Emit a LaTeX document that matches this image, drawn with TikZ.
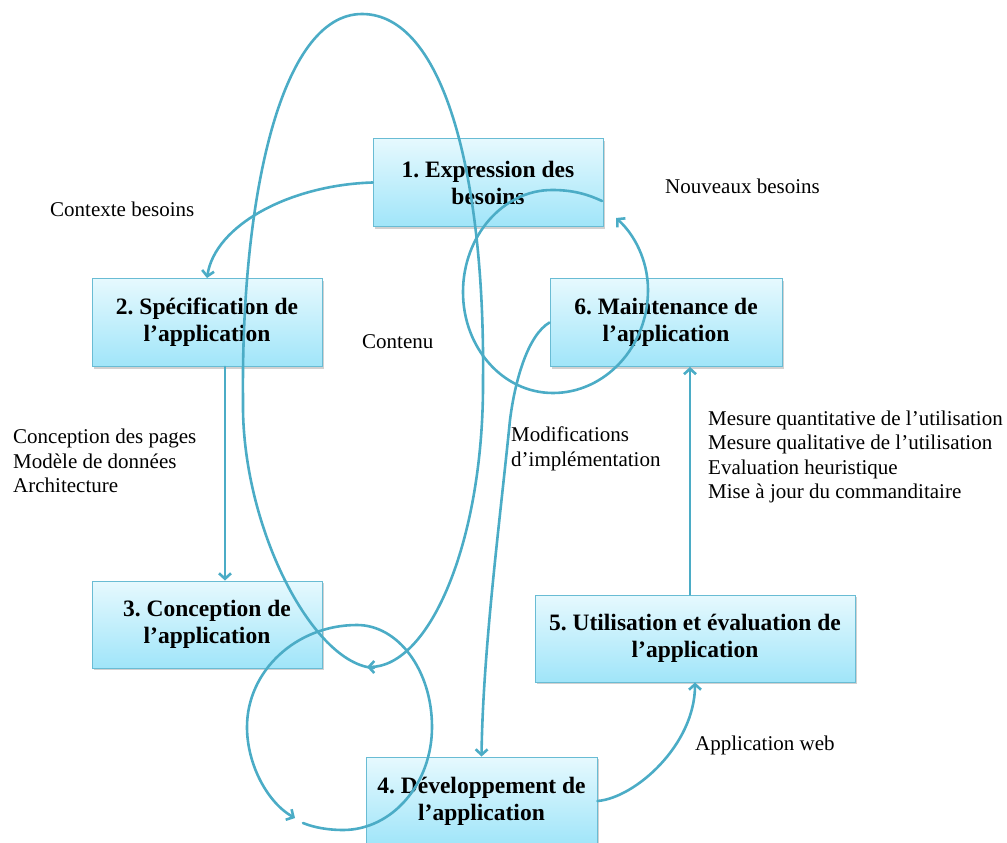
\documentclass[tikz,border=0pt]{standalone}
\usepackage{fontspec}
\setmainfont{Liberation Serif}
\usetikzlibrary{arrows.meta,shadows}
\definecolor{flow}{RGB}{75,172,198}
\definecolor{boxedge}{RGB}{105,188,212}
\definecolor{boxtop}{RGB}{230,249,254}
\definecolor{boxbot}{RGB}{160,229,249}
\frenchspacing

\begin{document}
\begin{tikzpicture}[x=1pt,y=-1pt,
  stage/.style={draw=boxedge, line width=0.9pt, top color=boxtop, bottom color=boxbot,
    minimum height=88pt, inner sep=0pt, align=center,
    font=\fontsize{23.5}{27}\selectfont\bfseries,
    drop shadow={shadow xshift=1.5pt, shadow yshift=-2pt, opacity=0.3, fill=black!60}},
  flowline/.style={draw=flow, line width=2.6pt, line cap=round, line join=round,
    -{Straight Barb[length=5.5pt,width=12pt]}},
  note/.style={inner sep=0pt, align=left, anchor=west, font=\fontsize{21}{24.5}\selectfont}
]
\useasboundingbox (0,0) rectangle (1007,843);

% process stages
\node[stage, minimum width=230pt] (b1) at (488,182.5) {1. Expression des\\besoins};
\node[stage, minimum width=230pt] (b2) at (207,322.5) {2. Spécification de\\l’application};
\node[stage, minimum width=230pt, minimum height=87pt] (b3) at (207,624.5) {3. Conception de\\l’application};
\node[stage, minimum width=231pt] (b4) at (481.5,801) {4. Développement de\\l’application};
\node[stage, minimum width=320pt, minimum height=87pt] (b5) at (695,638.5) {5. Utilisation et évaluation de\\l’application};
\node[stage, minimum width=232pt] (b6) at (666,322.5) {6. Maintenance de\\l’application};

% labels on the flows
\node[note] (lctx) at (50,209) {Contexte besoins};
\node[note] (lcont) at (362,342) {Contenu};
\node[note] (lconc) at (13,461) {Conception des pages\\Modèle de données\\Architecture};
\node[note] (lmod) at (511,449) {Modifications\\d’implémentation};
\node[note] (lmes) at (708,457) {Mesure quantitative de l’utilisation\\Mesure qualitative de l’utilisation\\Evaluation heuristique\\Mise à jour du commanditaire};
\node[note] (lnew) at (665,186) {Nouveaux besoins};
\node[note] (lweb) at (695,745) {Application web};

% helper coordinates
\coordinate (vx) at (690,0);
\coordinate (cnS) at (374,668);
\coordinate (cnE) at (367,667);
\coordinate (nbS) at (602,201);
\coordinate (nbE) at (616,218);
\coordinate (dvS) at (303,823);
\coordinate (dvE) at (295,818);

% straight and simple flows
\draw[flowline] (b1.west) .. controls (290,185) and (215,225) .. (b2.north);
\draw[flowline] ([xshift=18pt]b2.south) -- ([xshift=18pt]b3.north);
\draw[flowline] (b5.north -| vx) -- (b6.south -| vx);
\draw[flowline] (b4.east) .. controls (635,798) and (695,745) .. (b5.south);
\draw[flowline] (b6.west) .. controls (528,335) and (515,380) .. (510,420)
  .. controls (500,520) and (483,650) .. (b4.north);

% "Contenu": a large loop over stages 1 and 2
\draw[flowline] (cnS) .. controls (312,664) and (241,525) .. (243,400)
  .. controls (241,200) and (280,14) .. (362,14)
  .. controls (445,14) and (485,180) .. (483,380)
  .. controls (484,540) and (430,667) .. (cnE);

% "Nouveaux besoins": loop around the top of stage 6
\draw[flowline] (nbS) .. controls (585,193) and (570,190) .. (552,190)
  .. controls (503,190) and (463,236) .. (463,292)
  .. controls (463,348) and (503,393) .. (553,393)
  .. controls (605,393) and (648,347) .. (648,290)
  .. controls (648,260) and (634,234) .. (nbE);

% loop from stage 3 towards stage 4
\draw[flowline] (dvS) .. controls (315,828) and (330,830) .. (343,830)
  .. controls (392,830) and (432,784) .. (432,727)
  .. controls (432,670) and (398,625) .. (357,625)
  .. controls (296,625) and (247,671) .. (247,727)
  .. controls (247,765) and (268,803) .. (dvE);
\end{tikzpicture}
\end{document}
